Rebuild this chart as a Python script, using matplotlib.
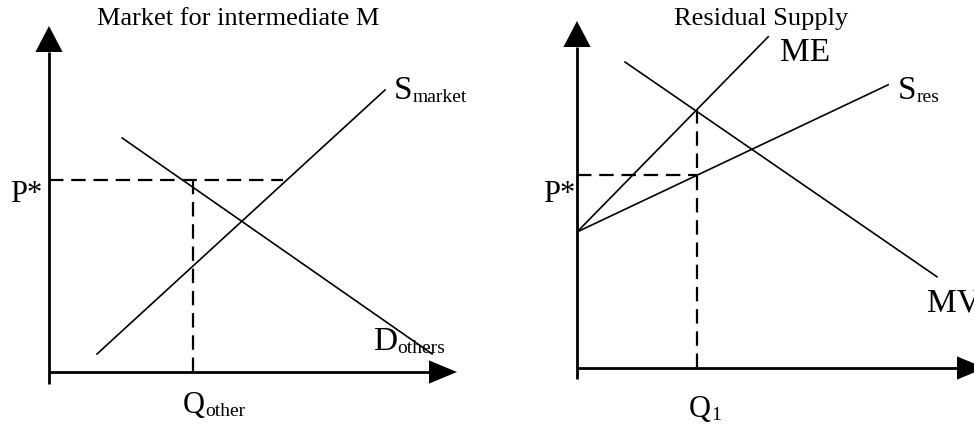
import matplotlib
matplotlib.use("Agg")
import matplotlib.pyplot as plt

plt.rcParams["font.family"] = ["Liberation Serif", "DejaVu Serif"]

# left panel: market for intermediate M
supply_q = [1.2, 8.4]
supply_p = [0.45, 7.05]
demand_q = [1.83, 9.58]
demand_p = [5.85, 0.45]
p_star_left = 4.8
p_star_left_end = 5.85
q_other = 3.6

# right panel: residual supply
me_q = [0.0, 4.78]
me_p = [3.4, 8.28]
sres_q = [0.0, 7.78]
sres_p = [3.4, 7.08]
mv_q = [1.2, 9.0]
mv_p = [7.65, 2.28]
p_star_right = 4.82
q1 = 3.0
q1_top = 6.45

AXIS_LW = 2.0
CURVE_LW = 1.2
DASH_LW = 1.6
DASHES = (6.5, 3.5)


def draw_axes(ax, x_base, x_tip, y_base, y_tip, y_bottom):
    ax.plot([0, x_base], [0, 0], color="black", lw=AXIS_LW, solid_capstyle="butt")
    ax.plot([0, 0], [y_bottom, y_base], color="black", lw=AXIS_LW, solid_capstyle="butt")
    ax.fill([x_base, x_tip, x_base], [-0.29, 0, 0.29], color="black", lw=0)
    ax.fill([-0.34, 0, 0.34], [y_base, y_tip, y_base], color="black", lw=0)


def label(ax, x, y, main, sub=None, size=24, subsize=14):
    t = ax.text(x, y, main, fontsize=size, ha="left", va="baseline")
    if sub:
        ax.annotate(sub, xy=(1, 0.14), xycoords=t, fontsize=subsize,
                    ha="left", va="baseline")
    return t


fig = plt.figure(figsize=(9.74, 4.28), dpi=100)
ax1 = fig.add_axes([0, 0, 487 / 974, 1])
ax2 = fig.add_axes([487 / 974, 0, 487 / 974, 1])

# left
ax1.set_xlim(-1.225, 10.95)
ax1.set_ylim(-1.4, 9.3)
ax1.axis("off")
draw_axes(ax1, 9.5, 10.2, 8.0, 8.65, -0.3)
ax1.plot(supply_q, supply_p, color="black", lw=CURVE_LW)
ax1.plot(demand_q, demand_p, color="black", lw=CURVE_LW)
ax1.plot([0, p_star_left_end], [p_star_left, p_star_left], color="black",
         lw=DASH_LW, dashes=DASHES)
ax1.plot([q_other, q_other], [0, p_star_left], color="black",
         lw=DASH_LW, dashes=DASHES)
ax1.text(4.74, 8.675, "Market for intermediate M", fontsize=19,
         ha="center", va="baseline")
label(ax1, -0.975, 4.25, "P*", size=22)
label(ax1, 3.35, -1.025, "Q", "other", size=22)
label(ax1, 8.625, 6.825, "S", "market")
label(ax1, 8.1, 0.55, "D", "others")

# right
ax2.set_xlim(-2.25, 9.925)
ax2.set_ylim(-1.5, 9.2)
ax2.axis("off")
draw_axes(ax2, 9.5, 10.2, 8.025, 8.675, -0.275)
ax2.plot(me_q, me_p, color="black", lw=CURVE_LW)
ax2.plot(sres_q, sres_p, color="black", lw=CURVE_LW)
ax2.plot(mv_q, mv_p, color="black", lw=CURVE_LW)
ax2.plot([0, q1], [p_star_right, p_star_right], color="black",
         lw=DASH_LW, dashes=DASHES)
ax2.plot([q1, q1], [0, q1_top], color="black", lw=DASH_LW, dashes=DASHES)
ax2.text(4.6, 8.575, "Residual Supply", fontsize=19, ha="center", va="baseline")
label(ax2, -0.85, 4.15, "P*", size=22)
label(ax2, 2.8, -1.225, "Q", "1", size=22)
label(ax2, 5.075, 7.675, "ME")
label(ax2, 8.025, 6.725, "S", "res")
# MV is cut at the right edge in the reference as well
label(ax2, 8.75, 1.4, "MV")

fig.savefig("out.png", dpi=100)
